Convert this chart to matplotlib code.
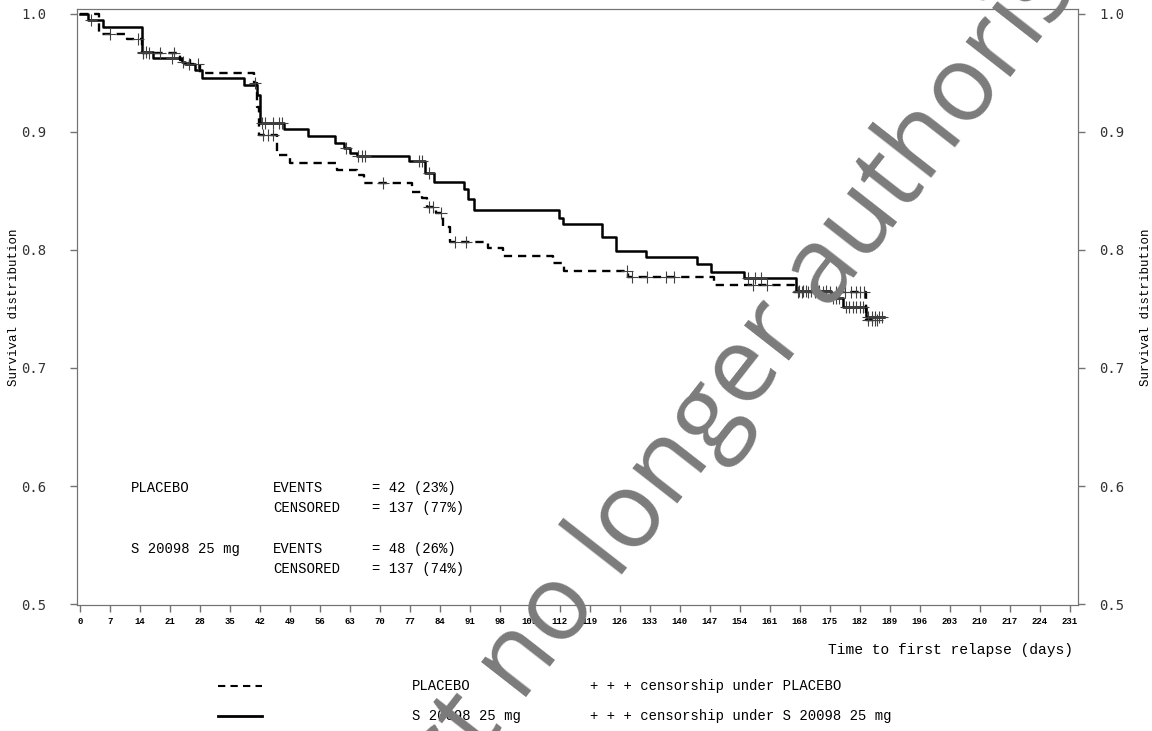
import numpy as np
import matplotlib.pyplot as plt
from matplotlib.lines import Line2D

# Kaplan-Meier steps (days, survival)
placebo_t = [0, 4.5, 10.9, 14.4, 23.4, 25.7, 28.0, 40.5, 41.3, 41.8, 46.0, 49.0,
             60.0, 64.6, 66.2, 77.5, 79.8, 81.0, 83.0, 84.8, 86.4, 95.3, 98.8,
             110.5, 112.9, 128.0, 147.9, 166.6, 183.4, 186.0]
placebo_s = [1.0, 0.983, 0.9786, 0.9667, 0.961, 0.958, 0.9497, 0.9413, 0.921, 0.8975,
             0.8805, 0.8734, 0.868, 0.8636, 0.8565, 0.849, 0.8438, 0.8367, 0.8314,
             0.8198, 0.807, 0.8017, 0.795, 0.789, 0.7825, 0.777, 0.770, 0.7647,
             0.741, 0.741]
placebo_cens = [7.0, 13.6, 14.7, 16.0, 18.7, 22.0, 27.6, 40.8, 42.8, 43.8, 45.0,
                70.8, 81.5, 82.3, 84.2, 87.6, 90.0, 127.7, 128.9, 132.4, 136.7,
                138.6, 157.0, 160.4, 167.5, 168.5, 170.0, 171.5, 172.3, 173.5, 175.0,
                176.5, 177.2, 178.5, 180.0, 181.0, 182.0, 183.0, 184.0, 184.8, 185.5,
                186.0]

drug_t = [0, 1.95, 5.4, 14.4, 17.1, 23.7, 24.5, 26.9, 28.4, 38.2, 41.3, 42.0, 47.5,
          53.3, 59.6, 61.5, 63.1, 64.6, 76.7, 80.6, 82.5, 89.5, 90.5, 91.9, 111.7,
          112.8, 121.9, 125.0, 132.0, 144.0, 147.2, 155.0, 167.0, 175.2, 178.0,
          183.4, 187.6]
drug_s = [1.0, 0.995, 0.989, 0.968, 0.9625, 0.9596, 0.958, 0.9525, 0.9455, 0.940,
          0.931, 0.9074, 0.9023, 0.8966, 0.8904, 0.886, 0.8825, 0.8797, 0.875, 0.865,
          0.858, 0.852, 0.843, 0.834, 0.827, 0.822, 0.8113, 0.7994, 0.794, 0.788,
          0.7816, 0.7766, 0.765, 0.7596, 0.752, 0.7435, 0.7435]
drug_cens = [2.5, 14.8, 15.5, 21.5, 24.0, 25.5, 42.5, 43.2, 45.0, 46.5, 47.2, 62.0,
             64.9, 65.8, 66.6, 79.2, 79.8, 81.5, 156.0, 157.5, 159.0, 167.8, 168.8,
             169.5, 170.5, 171.5, 172.5, 174.0, 175.8, 176.5, 177.2, 178.8, 179.5,
             180.3, 181.2, 182.0, 182.8, 184.0, 184.8, 185.6, 186.4, 187.2]

x_ticks = list(range(0, 232, 7))
y_ticks = [0.5, 0.6, 0.7, 0.8, 0.9, 1.0]

stats_groups = ["PLACEBO", "", "S 20098 25 mg", ""]
stats_kind = ["EVENTS", "CENSORED", "EVENTS", "CENSORED"]
stats_vals = ["= 42 (23%)", "= 137 (77%)", "= 48 (26%)", "= 137 (74%)"]


def surv_at(t, s, ct):
    idx = np.searchsorted(t, ct, side='right') - 1
    return np.asarray(s)[idx]


mono = 'Liberation Mono'
grey = '0.45'
dash = (0, (3.5, 2.5))

fig = plt.figure(figsize=(11.52, 7.31), dpi=100)
ax = fig.add_axes([0.0668, 0.1724, 0.8690, 0.8153])

ax.step(placebo_t, placebo_s, where='post', color='black', lw=1.7, linestyle=dash)
ax.step(drug_t, drug_s, where='post', color='black', lw=1.8)
ax.plot(placebo_cens, surv_at(placebo_t, placebo_s, placebo_cens), '+',
        color='0.25', ms=8, mew=0.8)
ax.plot(drug_cens, surv_at(drug_t, drug_s, drug_cens), '+',
        color='0.25', ms=8, mew=0.8)

ax.set_xlim(-0.7, 232.9)
ax.set_ylim(0.4992, 1.0042)
ax.set_xticks(x_ticks)
ax.set_xticklabels([str(v) for v in x_ticks], fontsize=6.5, fontweight='bold',
                   family=mono)
ax.set_yticks(y_ticks)
ax.set_yticklabels([f"{v:.1f}" for v in y_ticks], fontsize=10,
                   family='DejaVu Sans Mono', color='0.2')
ax.tick_params(axis='both', direction='out', length=5, color=grey, width=1)
ax.tick_params(axis='y', pad=17)
for sp in ax.spines.values():
    sp.set_color(grey)
ax.set_ylabel("Survival distribution", family=mono, fontsize=9)
ax.yaxis.set_label_coords(-0.057, 0.5)

ax2 = ax.twinx()
ax2.set_ylim(ax.get_ylim())
ax2.set_yticks(y_ticks)
ax2.set_yticklabels([f"{v:.1f}" for v in y_ticks], fontsize=10,
                    family='DejaVu Sans Mono', color='0.2')
ax2.tick_params(axis='y', direction='out', length=5, color=grey, width=1, pad=10)
for sp in ax2.spines.values():
    sp.set_color(grey)
ax2.set_ylabel("Survival distribution", family=mono, fontsize=9)
ax2.yaxis.set_label_coords(1.062, 0.5)

fig.text(1073 / 1152, 1 - 650 / 731, "Time to first relapse (days)",
         ha='right', va='center', family=mono, fontsize=10.5)

# event / censored summary
rows_y = [488, 508, 549, 569]
for g, k, v, yy in zip(stats_groups, stats_kind, stats_vals, rows_y):
    fy = 1 - yy / 731
    fig.text(131 / 1152, fy, g, ha='left', va='center', family=mono, fontsize=10)
    fig.text(273 / 1152, fy, k, ha='left', va='center', family=mono, fontsize=10)
    fig.text(372 / 1152, fy, v, ha='left', va='center', family=mono, fontsize=10)

# legend under the plot
leg_y = [1 - 686 / 731, 1 - 716 / 731]
fig.add_artist(Line2D([218 / 1152, 262 / 1152], [leg_y[0]] * 2, color='black',
                      lw=1.5, linestyle=dash))
fig.add_artist(Line2D([218 / 1152, 262 / 1152], [leg_y[1]] * 2, color='black',
                      lw=2))
legend_names = ["PLACEBO", "S 20098 25 mg"]
for name, yy in zip(legend_names, leg_y):
    fig.text(412 / 1152, yy, name, ha='left', va='center', family=mono, fontsize=10)
    fig.text(590 / 1152, yy, "+ + + censorship under " + name, ha='left',
             va='center', family=mono, fontsize=10)

# watermark
fig.text(0.483, 0.0985, "Medicinal product no longer authorised", rotation=52,
         rotation_mode='anchor', ha='center', va='baseline', family='Open Sans',
         fontsize=76, color='#7b7b7b', zorder=10)

fig.savefig('out.png', dpi=100)
